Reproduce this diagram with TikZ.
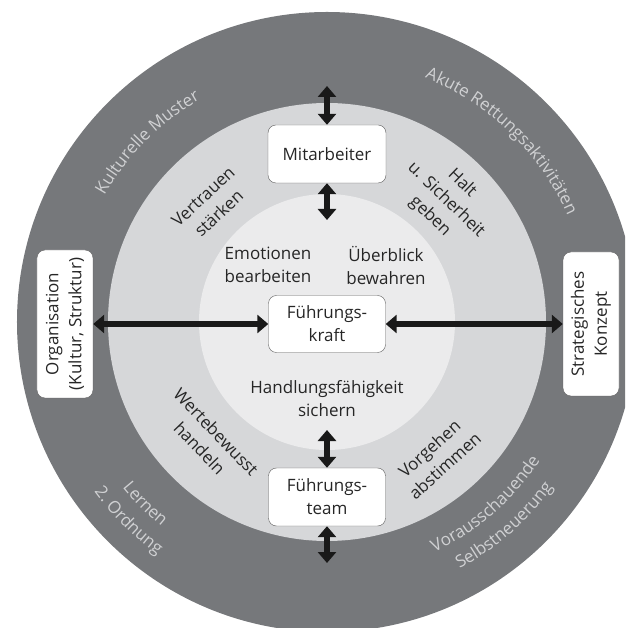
\documentclass[tikz,border=0pt]{standalone}
\usepackage{fontspec}
\setmainfont{Open Sans}
\usetikzlibrary{arrows.meta,decorations.text}
\definecolor{ringdark}{RGB}{118,120,123}
\definecolor{ringmid}{RGB}{214,215,217}
\definecolor{ringin}{RGB}{235,235,236}
\definecolor{ringtext}{RGB}{208,209,211}
\definecolor{boxline}{RGB}{95,95,95}
\newcommand{\ringfont}{\fontsize{17}{23}\selectfont}
% curved labels in the dark ring: radius, centre angle, text
\newcommand{\toplabel}[3]{\path[decorate,decoration={text along path,text align=center,
   text color=ringtext,text={|\ringfont|#3}}] (#2+45:#1) arc[start angle=#2+45,end angle=#2-45,radius=#1];}
\newcommand{\botlabel}[3]{\path[decorate,decoration={text along path,text align=center,
   text color=ringtext,text={|\ringfont|#3}}] (#2-45:#1) arc[start angle=#2-45,end angle=#2+45,radius=#1];}

\begin{document}
\begin{tikzpicture}[x=1pt,y=1pt,font=\ringfont]
 \tikzset{box/.style={draw=boxline,fill=white,rounded corners=8pt,align=center,text=black!85,inner sep=2pt},
  arrow/.style={line width=5.5pt,black!90,{Triangle[width=18pt,length=11pt]}-{Triangle[width=18pt,length=11pt]}},
  ringtxt/.style={align=center,text=black!85,inner sep=0pt}}
 \useasboundingbox (-327,-306) rectangle (298,322);
 \clip (-327,-306) rectangle (298,322);
 \fill[ringdark] (0,0) circle[radius=310];
 \fill[ringmid] (0,0) circle[radius=219];
 \fill[ringin] (0,0) circle[radius=128];

 \toplabel{256}{135}{Kulturelle Muster}
 \toplabel{263}{46}{Akute Rettungsaktivitäten}
 \botlabel{263}{225}{Lernen}
 \botlabel{288}{225}{2. Ordnung}
 \botlabel{254}{311}{Vorausschauende}
 \botlabel{280}{311}{Selbstneuerung}

 \node[ringtxt,rotate=43] (VS) at (-116,117) {Vertrauen\\stärken};
 \node[ringtxt,rotate=-44] (HS) at (119,122) {Halt\\u. Sicherheit\\geben};
 \node[ringtxt,rotate=-46] (WH) at (-119,-118) {Wertebewusst\\handeln};
 \node[ringtxt,rotate=42] (VA) at (110,-135) {Vorgehen\\abstimmen};

 \node[ringtxt] (EB) at (-59,57) {Emotionen\\bearbeiten};
 \node[ringtxt] (UB) at (59,57) {Überblick\\bewahren};
 \node[ringtxt] (HF) at (0,-77) {Handlungsfähigkeit\\sichern};

 \node[box,minimum width=118,minimum height=58] (MA) at (0,168) {Mitarbeiter};
 \node[box,minimum width=117,minimum height=57] (FK) at (0,-2) {Führungs-\\kraft};
 \node[box,minimum width=117,minimum height=58] (FT) at (0,-175) {Führungs-\\team};
 \node[box,rotate=90,minimum width=148,minimum height=56] (ORG) at (-262,-2) {Organisation\\(Kultur, Struktur)};
 \node[box,rotate=90,minimum width=144,minimum height=56] (SK) at (264,-2) {Strategisches\\Konzept};

 \coordinate (MAtop) at (0,236);
 \coordinate (MAbot) at (0,102);
 \coordinate (FTtop) at (0,-108);
 \coordinate (FTbot) at (0,-241);

 \draw[arrow] (MAtop) -- (MA.north);
 \draw[arrow] (MA.south) -- (MAbot);
 \draw[arrow] (FTtop) -- (FT.north);
 \draw[arrow] (FT.south) -- (FTbot);
 \draw[arrow] (ORG.south) -- (FK.west);
 \draw[arrow] (FK.east) -- (SK.north);
\end{tikzpicture}
\end{document}
